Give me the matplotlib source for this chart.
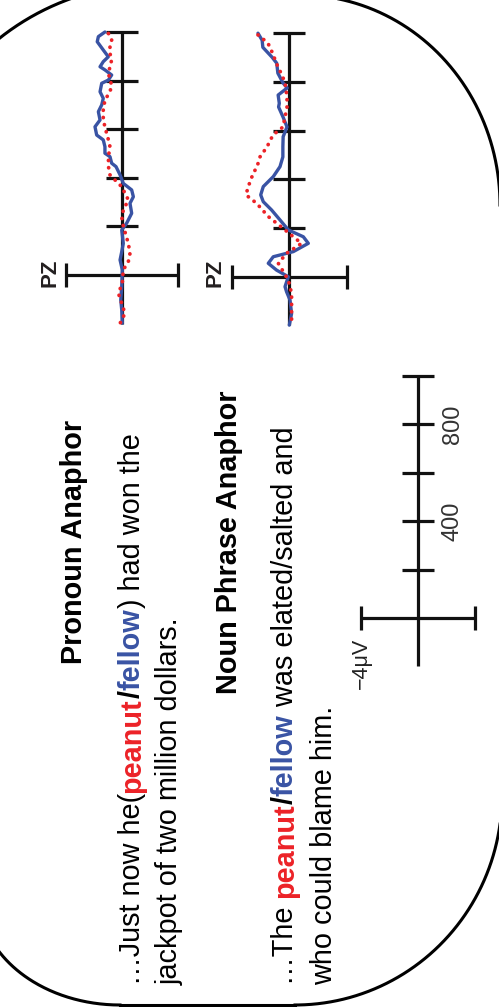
import numpy as np
import matplotlib
matplotlib.use('Agg')
import matplotlib.pyplot as plt

plt.rcParams['font.family'] = ['Liberation Sans', 'DejaVu Sans']

#%% data: time in ms, amplitude in uV (negative to the left)
pron_blue_t = [1000, 981, 960, 926, 898, 878, 857, 844, 823, 802, 789, 754, 727, 700, 672, 638, 610,
               576, 556, 528, 501, 487, 460, 446, 412, 377, 350, 322, 295, 254, 213, 185, 130, 96,
               62, 21, -48, -103, -144, -198]
pron_blue_v = [-1.24, -1.71, -1.79, -1.36, -1.0, -1.36, -1.59, -1.24, -0.76, -1.0, -1.47, -1.59, -1.36,
               -1.47, -1.71, -1.59, -1.95, -1.83, -1.36, -1.24, -1.24, -0.88, -0.76, -0.45, -0.16, 0.07,
               0.67, 0.79, 0.55, 0.67, 0.31, -0.04, 0.07, -0.04, -0.16, 0.0, -0.04, -0.11, -0.04, 0.0]

pron_red_t = [994, 967, 940, 912, 885, 857, 830, 802, 782, 754, 720, 679, 638, 610, 583, 556, 528, 487,
              446, 412, 363, 309, 267, 226, 178, 130, 89, 55, 21, -34, -75, -117, -158, -199]
pron_red_v = [-0.99, -0.76, -0.88, -0.88, -0.76, -0.88, -0.99, -0.88, -0.76, -0.88, -1.24, -1.36, -1.36,
              -1.24, -1.12, -0.99, -0.88, -0.99, -0.99, -0.88, -0.04, 0.43, 0.07, -0.04, 0.19, 0.43,
              0.55, 0.43, 0.07, 0.0, -0.28, -0.04, 0.19, -0.16]

np_blue_t = [1000, 971, 942, 901, 877, 836, 796, 775, 746, 712, 697, 656, 615, 575, 534, 492, 452, 411,
             370, 336, 308, 274, 233, 192, 164, 137, 103, 82, 55, 27, 0, -41, -62, -96, -151, -199]
np_blue_v = [-2.19, -1.9, -1.85, -1.2, -0.88, -0.8, -0.44, -0.15, -0.78, -0.7, -0.75, -0.44, -0.16,
             -0.43, -0.45, -0.45, -0.65, -1.12, -1.82, -2.0, -1.82, -1.24, -0.65, -0.07, 0.98, 1.33,
             0.28, -1.12, -1.47, -0.89, -0.07, -0.30, -0.19, 0.05, 0.16, 0.0]

np_red_t = [993, 960, 923, 861, 828, 796, 738, 697, 656, 615, 582, 533, 492, 451, 425, 370, 336, 301,
            247, 192, 158, 137, 96, 55, 21, -14, -68, -123, -192]
np_red_v = [-2.19, -1.5, -1.21, -0.79, -0.51, -0.30, -0.16, -0.16, -0.30, -0.44, -1.14, -1.56, -2.05,
            -2.26, -2.52, -2.87, -3.03, -2.28, -1.47, -0.30, 0.40, 0.86, -0.19, -0.77, -0.42, -0.07,
            0.16, 0.16, 0.16]

tick_ms = [200, 400, 600, 800, 1000]
scale_labels = {400: '400', 800: '800'}

RED = '#ec2227'
BLUE = '#3953a4'
W, H = 499, 1007

fig = plt.figure(figsize=(W / 100, H / 100), dpi=100)
bg = fig.add_axes([0, 0, 1, 1])
bg.set_xlim(0, W)
bg.set_ylim(H, 0)
bg.axis('off')

#%% rounded frame (only parts of it are on the page)
def arc(cx, cy, a, b, th0, th1, **kw):
    th = np.radians(np.linspace(th0, th1, 200))
    bg.plot(cx + a * np.cos(th), cy + b * np.sin(th), color='k', lw=2.2, **kw)

arc(155, 234, 250, 250, 180, 270)
arc(300, 205, 200, 210, -90, 0)
arc(295, 795, 207, 210, 0, 90)
arc(120, 895, 141, 110, 90, 180)
bg.plot([120, 295], [1005, 1005], color='k', lw=2.2)


#%% ERP panels
def erp_axes(cx, cy, px_uv, px_ms):
    # cx, cy: pixel position of 0 uV / 0 ms
    x0 = cx - 5 * px_uv
    y_top = cy - 1050 * px_ms
    y_bot = cy + 250 * px_ms
    ax = fig.add_axes([x0 / W, 1 - y_bot / H, 10 * px_uv / W, (y_bot - y_top) / H])
    ax.set_xlim(-5, 5)
    ax.set_ylim(-250, 1050)
    ax.axis('off')
    # axes of the scale
    kw = dict(color='#111111', lw=2.3, solid_capstyle='butt', zorder=1)
    ax.plot([0, 0], [-200, 1000], **kw)
    th = 16 / px_uv
    for t in tick_ms:
        ax.plot([-th, th], [t, t], **kw)
    ax.plot([-4, 4], [0, 0], **kw)
    cap = 12 / px_ms
    for v in (-4, 4):
        ax.plot([v, v], [-cap, cap], **kw)
    return ax


def traces(ax, bt, bv, rt, rv):
    ax.plot(bv, bt, color=BLUE, lw=2.4, solid_joinstyle='round', solid_capstyle='round', zorder=3)
    ax.plot(rv, rt, color=RED, lw=2.7, linestyle=(0, (0.05, 1.9)),
            dash_capstyle='round', zorder=4)


ax1 = erp_axes(122.3, 275, 14.0, 0.243)
traces(ax1, pron_blue_t, pron_blue_v, pron_red_t, pron_red_v)
ax2 = erp_axes(289.3, 276.7, 14.3, 0.2435)
traces(ax2, np_blue_t, np_blue_v, np_red_t, np_red_v)
ax3 = erp_axes(418, 618, 14.25, 0.242)
for t, s in scale_labels.items():
    ax3.text(2.85, t, s, rotation=90, rotation_mode='anchor', ha='center',
             va='baseline', fontsize=17, color='#333333')
ax3.text(-3.6, -186, '\u22124\u03bcV', rotation=90, rotation_mode='anchor',
         ha='center', va='baseline', fontsize=15.5, color='#222222')

bg.text(56, 273, 'PZ', rotation=90, rotation_mode='anchor', ha='center', va='baseline',
        fontsize=16, fontweight='bold', color='#231f20')
bg.text(221, 273, 'PZ', rotation=90, rotation_mode='anchor', ha='center', va='baseline',
        fontsize=16, fontweight='bold', color='#231f20')

#%% sentences
FS = 20.8
renderer = fig.canvas.get_renderer()


def text_len(s, weight):
    a = bg.text(0, 0, '|' + s + '|', fontsize=FS, fontweight=weight)
    b = bg.text(0, 0, '||', fontsize=FS, fontweight=weight)
    w = a.get_window_extent(renderer).width - b.get_window_extent(renderer).width
    a.remove()
    b.remove()
    return w


def rich_line(x, y, pieces):
    for s, color, weight in pieces:
        bg.text(x, y, s, rotation=90, rotation_mode='anchor', ha='left', va='baseline',
                fontsize=FS, color=color, fontweight=weight)
        y -= text_len(s, weight)


bg.text(82, 542, 'Pronoun Anaphor', rotation=90, rotation_mode='anchor', ha='center',
        va='baseline', fontsize=FS, fontweight='bold', color='k')
rich_line(140, 985, [('\u2026Just now he(', 'k', 'normal'), ('peanut', RED, 'bold'),
                     ('/', 'k', 'bold'), ('fellow', BLUE, 'bold'),
                     (') had won the', 'k', 'normal')])
rich_line(178, 985, [('jackpot of two million dollars.', 'k', 'normal')])

bg.text(237, 542, 'Noun Phrase Anaphor', rotation=90, rotation_mode='anchor', ha='center',
        va='baseline', fontsize=FS, fontweight='bold', color='k')
rich_line(293, 985, [('\u2026The ', 'k', 'normal'), ('peanut', RED, 'bold'),
                     ('/', 'k', 'bold'), ('fellow', BLUE, 'bold'),
                     (' was elated/salted and', 'k', 'normal')])
rich_line(332, 985, [('who could blame him.', 'k', 'normal')])

fig.savefig('out.png', dpi=100)
